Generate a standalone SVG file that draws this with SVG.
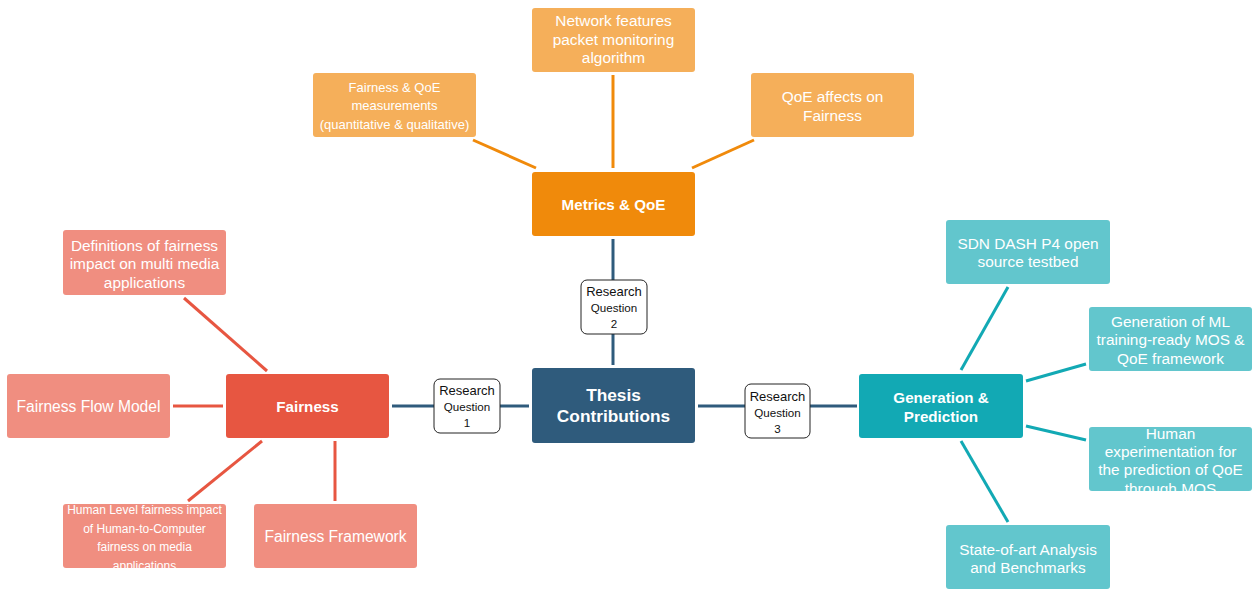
<svg xmlns="http://www.w3.org/2000/svg" width="1258" height="592" viewBox="0 0 1258 592">
  <style>
    text { font-family: "Liberation Sans", Arial, sans-serif; fill: #ffffff; text-anchor: middle; }
    .hub text { font-weight: bold; }
    .rq rect { fill: #ffffff; stroke: #222222; stroke-width: 1; }
    .rq text { fill: #111111; }
    .c-or { stroke: #F08A0B; stroke-width: 3; fill: none; }
    .c-rd { stroke: #E75641; stroke-width: 3; fill: none; }
    .c-tl { stroke: #12A9B4; stroke-width: 3; fill: none; }
    .c-bl { stroke: #2F5B7C; stroke-width: 3; fill: none; }
    .or-hub { fill: #F08A0B; }
    .or-leaf { fill: #F5AF5A; }
    .rd-hub { fill: #E75641; }
    .rd-leaf { fill: #F08E80; }
    .tl-hub { fill: #12A9B4; }
    .tl-leaf { fill: #62C6CD; }
    .bl-hub { fill: #2F5B7C; }
    .t15 { font-size: 15.4px; }
    .t13 { font-size: 13px; }
    .t12 { font-size: 12px; }
  </style>
  <defs>
    <clipPath id="clip-human-level"><rect x="63" y="504" width="163" height="64"/></clipPath>
    <clipPath id="clip-human-exp"><rect x="1089" y="427" width="163" height="64"/></clipPath>
  </defs>
  <rect width="1258" height="592" fill="#ffffff"/>

  <g id="connectors">
    <!-- metrics branch -->
    <line class="c-or" x1="613" y1="75" x2="613" y2="168"/>
    <line class="c-or" x1="473" y1="140" x2="536" y2="168"/>
    <line class="c-or" x1="754" y1="140" x2="692" y2="168"/>
    <!-- spine through the research questions -->
    <line class="c-bl" x1="613" y1="239" x2="613" y2="280"/>
    <line class="c-bl" x1="613" y1="334" x2="613" y2="365"/>
    <line class="c-bl" x1="392" y1="406" x2="434" y2="406"/>
    <line class="c-bl" x1="500" y1="406" x2="529" y2="406"/>
    <line class="c-bl" x1="698" y1="406" x2="745" y2="406"/>
    <line class="c-bl" x1="810" y1="406" x2="857" y2="406"/>
    <!-- fairness branch -->
    <line class="c-rd" x1="184" y1="298" x2="267" y2="371"/>
    <line class="c-rd" x1="173" y1="406" x2="223" y2="406"/>
    <line class="c-rd" x1="262" y1="441" x2="188" y2="501"/>
    <line class="c-rd" x1="335" y1="441" x2="335" y2="501"/>
    <!-- generation branch -->
    <line class="c-tl" x1="961" y1="370" x2="1008" y2="287"/>
    <line class="c-tl" x1="1026" y1="381" x2="1086" y2="364"/>
    <line class="c-tl" x1="1026" y1="426" x2="1086" y2="440"/>
    <line class="c-tl" x1="961" y1="441" x2="1008" y2="522"/>
  </g>

  <!-- metrics & QoE -->
  <g id="network-features">
    <rect class="or-leaf" x="532" y="8" width="163" height="64" rx="3"/>
    <text class="t15" x="613.5" y="26">Network features</text>
    <text class="t15" x="613.5" y="45">packet monitoring</text>
    <text class="t15" x="613.5" y="63">algorithm</text>
  </g>
  <g id="fairness-qoe-measurements">
    <rect class="or-leaf" x="313" y="73" width="163" height="64" rx="3"/>
    <text class="t13" x="394.5" y="91.5">Fairness &amp; QoE</text>
    <text class="t13" x="394.5" y="110">measurements</text>
    <text class="t13" x="394.5" y="128.5">(quantitative &amp; qualitative)</text>
  </g>
  <g id="qoe-affects">
    <rect class="or-leaf" x="751" y="73" width="163" height="64" rx="3"/>
    <text class="t15" x="832.5" y="102">QoE affects on</text>
    <text class="t15" x="832.5" y="120.5">Fairness</text>
  </g>
  <g id="metrics-qoe" class="hub">
    <rect class="or-hub" x="532" y="172" width="163" height="64" rx="3"/>
    <text x="613.5" y="209.5" font-size="15.2">Metrics &amp; QoE</text>
  </g>

  <!-- centre -->
  <g id="thesis-contributions" class="hub">
    <rect class="bl-hub" x="532" y="368" width="163" height="75" rx="3"/>
    <text x="613.5" y="401" font-size="17.3">Thesis</text>
    <text x="613.5" y="422" font-size="17.3">Contributions</text>
  </g>
  <g id="rq2" class="rq">
    <rect x="581" y="280" width="66" height="54" rx="6"/>
    <text x="614" y="295.5" font-size="13">Research</text>
    <text x="614" y="311.5" font-size="11.6">Question</text>
    <text x="614" y="327.5" font-size="11.6">2</text>
  </g>
  <g id="rq1" class="rq">
    <rect x="434" y="379" width="66" height="54" rx="6"/>
    <text x="467" y="394.5" font-size="13">Research</text>
    <text x="467" y="410.5" font-size="11.6">Question</text>
    <text x="467" y="427" font-size="11.6">1</text>
  </g>
  <g id="rq3" class="rq">
    <rect x="745" y="384" width="65" height="54" rx="6"/>
    <text x="777.5" y="400.5" font-size="13">Research</text>
    <text x="777.5" y="416.5" font-size="11.6">Question</text>
    <text x="777.5" y="432.5" font-size="11.6">3</text>
  </g>

  <!-- fairness -->
  <g id="fairness" class="hub">
    <rect class="rd-hub" x="226" y="374" width="163" height="64" rx="3"/>
    <text x="307.5" y="411.5" font-size="15.2">Fairness</text>
  </g>
  <g id="definitions">
    <rect class="rd-leaf" x="63" y="230" width="163" height="65" rx="3"/>
    <text class="t15" x="144.5" y="250.5">Definitions of fairness</text>
    <text class="t15" x="144.5" y="269">impact on multi media</text>
    <text class="t15" x="144.5" y="287.5">applications</text>
  </g>
  <g id="fairness-flow-model">
    <rect class="rd-leaf" x="7" y="374" width="163" height="64" rx="3"/>
    <text x="88.5" y="411.5" font-size="15.6">Fairness Flow Model</text>
  </g>
  <g id="human-level">
    <rect class="rd-leaf" x="63" y="504" width="163" height="64" rx="3"/>
    <g clip-path="url(#clip-human-level)">
      <text class="t12" x="144.5" y="514">Human Level fairness impact</text>
      <text class="t12" x="144.5" y="532.5">of Human-to-Computer</text>
      <text class="t12" x="144.5" y="551">fairness on media</text>
      <text class="t12" x="144.5" y="569.5">applications</text>
    </g>
  </g>
  <g id="fairness-framework">
    <rect class="rd-leaf" x="254" y="504" width="163" height="64" rx="3"/>
    <text x="335.5" y="541.5" font-size="15.6">Fairness Framework</text>
  </g>

  <!-- generation & prediction -->
  <g id="generation-prediction" class="hub">
    <rect class="tl-hub" x="859" y="374" width="164" height="64" rx="3"/>
    <text x="941" y="402.5" font-size="15.2">Generation &amp;</text>
    <text x="941" y="421.5" font-size="15.2">Prediction</text>
  </g>
  <g id="sdn-dash">
    <rect class="tl-leaf" x="946" y="220" width="164" height="64" rx="3"/>
    <text class="t15" x="1028" y="248.5">SDN DASH P4 open</text>
    <text class="t15" x="1028" y="267">source testbed</text>
  </g>
  <g id="ml-generation">
    <rect class="tl-leaf" x="1089" y="307" width="163" height="64" rx="3"/>
    <text class="t15" x="1170.5" y="326.5">Generation of ML</text>
    <text class="t15" x="1170.5" y="345">training-ready MOS &amp;</text>
    <text class="t15" x="1170.5" y="363.5">QoE framework</text>
  </g>
  <g id="human-experimentation">
    <rect class="tl-leaf" x="1089" y="427" width="163" height="64" rx="3"/>
    <g clip-path="url(#clip-human-exp)">
      <text class="t15" x="1170.5" y="438.5">Human</text>
      <text class="t15" x="1170.5" y="457">experimentation for</text>
      <text class="t15" x="1170.5" y="475">the prediction of QoE</text>
      <text class="t15" x="1170.5" y="493.5">through MOS</text>
    </g>
  </g>
  <g id="state-of-art">
    <rect class="tl-leaf" x="946" y="525" width="164" height="64" rx="3"/>
    <text class="t15" x="1028" y="554.5">State-of-art Analysis</text>
    <text class="t15" x="1028" y="573">and Benchmarks</text>
  </g>
</svg>
